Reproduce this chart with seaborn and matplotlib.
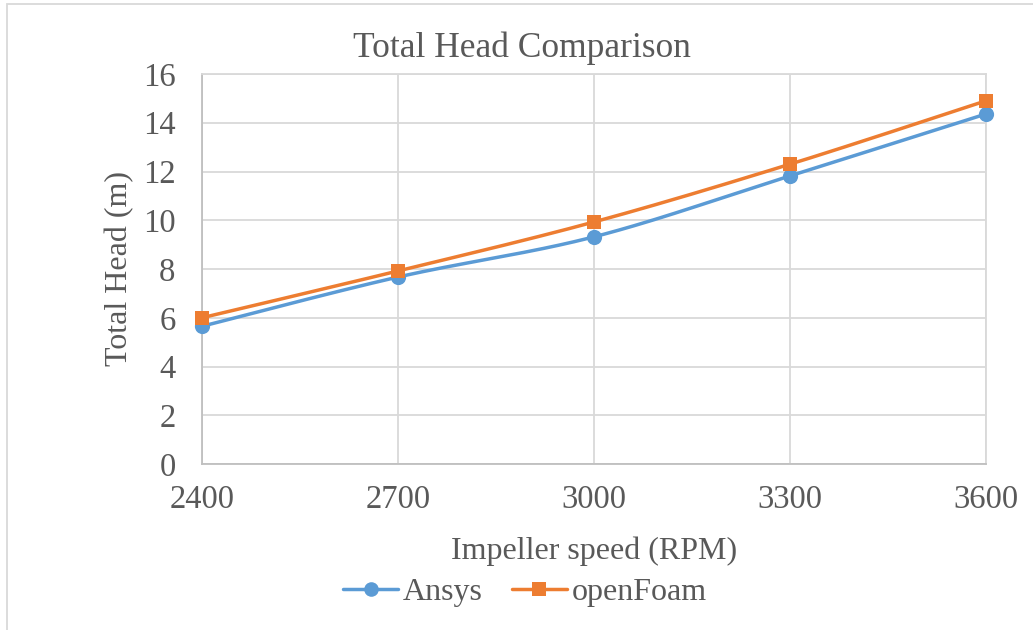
import numpy as np
import pandas as pd
import matplotlib
matplotlib.use("Agg")
import matplotlib.pyplot as plt
from matplotlib.lines import Line2D
from matplotlib.patches import Rectangle
import seaborn as sns

speeds = [2400, 2700, 3000, 3300, 3600]
ansys = [5.65, 7.67, 9.32, 11.82, 14.36]
openfoam = [6.0, 7.92, 9.93, 12.3, 14.9]
series_names = ["Ansys", "openFoam"]
yticks = [0, 2, 4, 6, 8, 10, 12, 14, 16]

sns.set_theme(style="white")
plt.rcParams['font.family'] = ['Liberation Serif', 'DejaVu Serif']

TXT = "#595959"
GRID = "#D9D9D9"
colors = {"Ansys": "#5B9BD5", "openFoam": "#ED7D31"}
markers = {"Ansys": "o", "openFoam": "s"}
msize = {"Ansys": 120, "openFoam": 105}

fig = plt.figure(figsize=(10.33, 6.30), dpi=100)
ax = fig.add_axes([202/1033, 1-464/630, (986-202)/1033, (464-74)/630])

xmin, xmax, ymin, ymax = 2400, 3600, 0, 16


def smooth(xs, ys, n=40):
    # Catmull-Rom style Bezier smoothing (spreadsheet "smoothed line"), in normalized space
    xs = (np.asarray(xs, float) - xmin) / (xmax - xmin)
    ys = (np.asarray(ys, float) - ymin) / (ymax - ymin)
    P = np.column_stack([xs, ys])
    out = []
    t = np.linspace(0, 1, n)[:, None]
    for i in range(len(P) - 1):
        p0 = P[i - 1] if i > 0 else P[i]
        p1, p2 = P[i], P[i + 1]
        p3 = P[i + 2] if i + 2 < len(P) else P[i + 1]
        c1 = p1 + (p2 - p0) / 6
        c2 = p2 - (p3 - p1) / 6
        seg = ((1 - t) ** 3) * p1 + 3 * ((1 - t) ** 2) * t * c1 + 3 * (1 - t) * t ** 2 * c2 + t ** 3 * p2
        out.append(seg if i == 0 else seg[1:])
    S = np.vstack(out)
    return S[:, 0] * (xmax - xmin) + xmin, S[:, 1] * (ymax - ymin) + ymin


for name, vals in zip(series_names, [ansys, openfoam]):
    sx, sy = smooth(speeds, vals)
    df_curve = pd.DataFrame({"x": sx, "y": sy})
    sns.lineplot(data=df_curve, x="x", y="y", sort=False, estimator=None, ax=ax,
                 color=colors[name], linewidth=2.5, zorder=3)
    df_pts = pd.DataFrame({"x": speeds, "y": vals})
    sns.scatterplot(data=df_pts, x="x", y="y", ax=ax, color=colors[name],
                    marker=markers[name], s=msize[name], linewidth=0, zorder=4,
                    clip_on=False)

ax.set_xlim(xmin, xmax)
ax.set_ylim(ymin, ymax)
ax.set_xticks(speeds)
ax.set_yticks(yticks)
ax.set_xticklabels([str(s) for s in speeds])
ax.set_yticklabels([str(v) for v in yticks])
ax.grid(True, color=GRID, linewidth=1.3)
ax.set_axisbelow(True)
for side in ["top", "right", "left", "bottom"]:
    ax.spines[side].set_visible(True)
    ax.spines[side].set_color(GRID)
    ax.spines[side].set_linewidth(1.3)
ax.spines["bottom"].set_color("#BFBFBF")
ax.spines["left"].set_color("#BFBFBF")
ax.tick_params(axis="both", length=0, labelsize=23.5, colors=TXT)
ax.tick_params(axis="x", pad=15)
ax.tick_params(axis="y", pad=19)
for lab in ax.get_xticklabels() + ax.get_yticklabels():
    lab.set_color(TXT)

ax.set_xlabel("Impeller speed (RPM)", fontsize=23, color=TXT, labelpad=15)
ax.set_ylabel("Total Head (m)", fontsize=23, color=TXT, labelpad=6)
fig.text(0.505, 1 - 48/630, "Total Head Comparison", fontsize=25.5, color=TXT,
         ha="center", va="center")

handles = [Line2D([0], [0], color=colors[n], linewidth=2.5, marker=markers[n],
                  markersize=10.5 if n == "Ansys" else 10, markeredgewidth=0) for n in series_names]
fig.legend(handles, series_names, loc="center", bbox_to_anchor=(525/1033, 1-592/630),
           ncol=2, frameon=False, fontsize=23, labelcolor=TXT, handlelength=1.72,
           handletextpad=0.16, columnspacing=0.9)

fig.patches.append(Rectangle((7/1033, -0.1), 1.2, 1 - 4/630 + 0.1, transform=fig.transFigure,
                             fill=False, edgecolor="#D9D9D9", linewidth=1.3, zorder=0))

fig.savefig("out.png", dpi=100)
